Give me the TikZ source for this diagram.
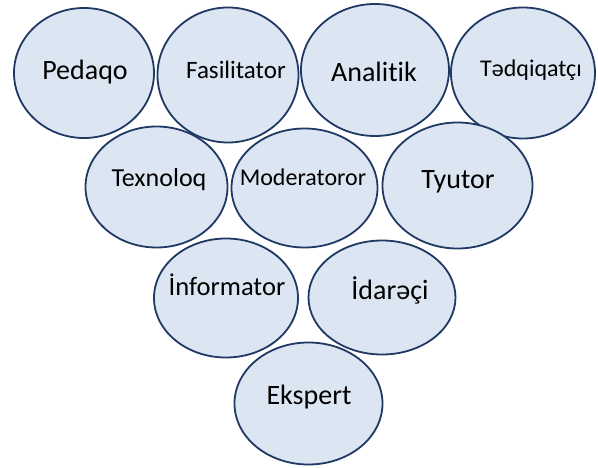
\documentclass[tikz,border=0pt]{standalone}
\usepackage{fontspec}
\setmainfont{Carlito}[Ligatures=NoCommon]
\usetikzlibrary{shapes.geometric}
\definecolor{rolefill}{HTML}{DCE6F2}
\definecolor{roleline}{HTML}{1F3864}
\tikzset{role/.style={ellipse, draw=roleline, fill=rolefill, line width=1.8pt, inner sep=0pt}}
\tikzset{txt/.style={font=\fontsize{#1}{#1}\selectfont, inner sep=0pt}}

\begin{document}
\begin{tikzpicture}[x=1pt,y=-1pt]
      \useasboundingbox (0,0) rectangle (598,468);
      % top row
      \node[role, minimum width=140pt, minimum height=130pt] (pedaqo) at (84,73) {};
      \node[role, minimum width=141pt, minimum height=135pt] (fasilitator) at (228,75) {};
      \node[role, minimum width=148pt, minimum height=132pt] (analitik) at (375,70) {};
      \node[role, minimum width=144pt, minimum height=131pt] (tedqiqatci) at (523,73) {};
      % second row
      \node[role, minimum width=142pt, minimum height=121pt] (texnoloq) at (156.5,187) {};
      \node[role, minimum width=146pt, minimum height=119pt] (moderatoror) at (304.5,188) {};
      \node[role, minimum width=150pt, minimum height=126pt] (tyutor) at (457.5,185.5) {};
      % third row
      \node[role, minimum width=144pt, minimum height=119pt] (informator) at (226,298) {};
      \node[role, minimum width=147pt, minimum height=114pt] (idareci) at (382,297.5) {};
      % bottom
      \node[role, minimum width=148pt, minimum height=122pt] (ekspert) at (308.5,403.5) {};
      % labels
      \node[txt=28] (pedaqo-t) at (85,72) {Pedaqo};
      \node[txt=25] (fasilitator-t) at (236,70) {Fasilitator};
      \node[txt=28] (analitik-t) at (374,72) {Analitik};
      \node[txt=24] (tedqiqatci-t) at (531,70) {Tədqiqatçı};
      \node[txt=26] (texnoloq-t) at (159,180) {Texnoloq};
      \node[txt=24] (moderatoror-t) at (303,177) {Moderatoror};
      \node[txt=28] (tyutor-t) at (458,182) {Tyutor};
      \node[txt=26.5] (informator-t) at (227,285) {İnformator};
      \node[txt=28] (idareci-t) at (390,290) {İdarəçi};
      \node[txt=28] (ekspert-t) at (309,397) {Ekspert};
    \end{tikzpicture}
\end{document}
